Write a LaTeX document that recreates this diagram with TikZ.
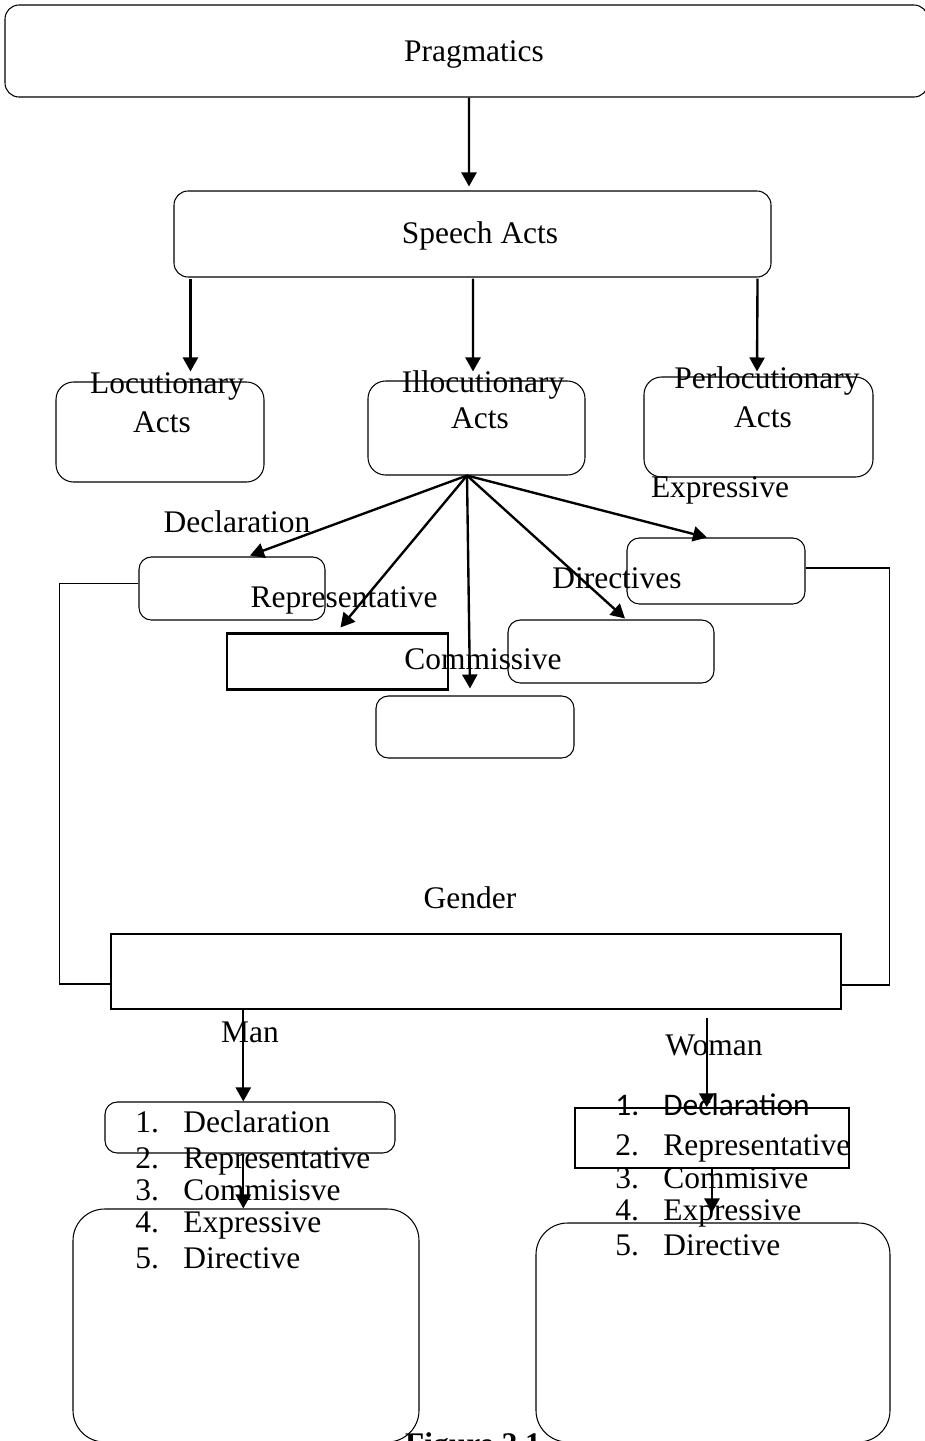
\documentclass[tikz,border=0pt]{standalone}
\usepackage{fontspec}
\setmainfont{Liberation Serif}
\newfontfamily\calfont{Carlito}
\usetikzlibrary{arrows.meta,calc,fit,positioning}

\tikzset{
  rbox/.style={draw,rounded corners=7pt,inner sep=0pt,line width=0.6pt},
  sbox/.style={draw,inner sep=0pt,line width=0.8pt},
  lbl/.style={inner sep=0pt,anchor=base,font=\fontsize{17.9}{21}\selectfont},
  litem/.style={lbl,anchor=base west},
  arr/.style={-{Triangle[length=0.28cm,width=0.3cm]},line width=1.35pt},
  brk/.style={line width=0.6pt},
}

\begin{document}
\begin{tikzpicture}[x=0.02cm,y=-0.02cm]
  \useasboundingbox (0,0) rectangle (925,1441);
  % Top levels
  \node[rbox,rounded corners=8pt,fit={(5,5) (928,97)}] (prag) {};
  \node[lbl] (tprag) at (474,61) {Pragmatics};
  \node[rbox,rounded corners=8pt,fit={(174,191) (771,277)}] (speech) {};
  \node[lbl] (tspeech) at (480,243) {Speech Acts};
  % Three kinds of acts
  \node[rbox,rounded corners=10pt,fit={(56,382) (264,482)}] (locu) {};
  \node[lbl] (tlocu) at (167,393) {Locutionary};
  \node[lbl] (tlocu2) at (162,432) {Acts};
  \node[rbox,rounded corners=10pt,fit={(368,381) (585,475)}] (illo) {};
  \node[lbl] (tillo) at (483,392) {Illocutionary};
  \node[lbl] (tillo2) at (480,428) {Acts};
  \node[rbox,rounded corners=10pt,fit={(644,377) (873,477)}] (perlo) {};
  \node[lbl] (tperlo) at (767,388) {Perlocutionary};
  \node[lbl] (tperlo2) at (763,427) {Acts};
  % Illocutionary types
  \node[rbox,fit={(139,557) (325,620)}] (decl) {};
  \node[lbl] (tdecl) at (237,532) {Declaration};
  \node[sbox,line width=1.7pt,fit={(227,633) (448,689)}] (rep) {};
  \node[lbl] (trep) at (344,607) {Representative};
  \node[rbox,fit={(376,696) (574,758)}] (comm) {};
  \node[lbl] (tcomm) at (483,669) {Commissive};
  \node[rbox,fit={(508,620) (714,683)}] (dir) {};
  \node[lbl] (tdir) at (617,588) {Directives};
  \node[rbox,fit={(627,538) (805,604)}] (expr) {};
  \node[lbl] (texpr) at (720,497) {Expressive};
  % Gender
  \node[sbox,fit={(111,934) (841,1009)}] (gender) {};
  \node[lbl] (tgender) at (470,908) {Gender};
  \node[lbl] (tman) at (250,1042) {Man};
  \node[lbl] (twoman) at (714,1055) {Woman};
  % Man side
  \node[rbox,fit={(105,1102) (395,1153)}] (mtop) {};
  \node[rbox,rounded corners=18pt,fit={(73,1209) (419,1442)}] (mlow) {};
  \foreach \i/\t/\y in {1/Declaration/1132,2/Representative/1168,3/Commisisve/1200,4/Expressive/1232,5/Directive/1268}{
    \node[litem] (mn\i) at (135,\y) {\i.};
    \node[litem] (mi\i) at (183,\y) {\t};
  }
  % Woman side
  \node[sbox,fit={(575,1108) (849,1168)}] (wtop) {};
  \node[rbox,rounded corners=18pt,fit={(536,1223) (890,1442)}] (wlow) {};
  \node[litem,font=\fontsize{17.9}{21}\calfont] (wn1) at (615,1115) {1.};
  \node[litem,font=\fontsize{17.9}{21}\calfont] (wi1) at (663,1115) {Declaration};
  \foreach \i/\t/\y in {2/Representative/1155,3/Commisive/1188,4/Expressive/1220,5/Directive/1255}{
    \node[litem] (wn\i) at (615,\y) {\i.};
    \node[litem] (wi\i) at (663,\y) {\t};
  }
  \node[lbl,font=\fontsize{17.9}{21}\selectfont\bfseries] (fig) at (473,1454) {Figure 2.1};
  % Arrows
  \draw[arr] ($(prag.south)+(2.5,0)$) -- ($(speech.north)+(-3.5,-4)$);
  \draw[arr] ($(speech.south west)+(17,1)$) -- ($(locu.north west)+(135,-10)$);
  \draw[arr] ($(speech.south)+(0.5,1)$) -- ($(illo.north)+(-3.5,-9)$);
  \draw[arr] ($(speech.south east)+(-14,1)$) -- ($(perlo.north)+(-1.5,-5)$);
  \coordinate (fan) at ($(illo.south)+(-9.5,0)$);
  \draw[arr] (fan) -- ($(decl.north)+(18,-1)$);
  \draw[arr] (fan) -- ($(rep.north)+(3,-4)$);
  \draw[arr] (fan) -- ($(comm.north)+(-5,-7)$);
  \draw[arr] (fan) -- ($(dir.north)+(14,-1)$);
  \draw[arr] (fan) -- ($(expr.north)+(-9,0)$);
  % Brackets to gender
  \coordinate (lb) at ($(gender.south west)+(-51,-26)$);
  \draw[brk] ($(decl.west)+(0,-5)$) -| (lb);
  \draw[line width=1.1pt] (lb) -- (lb -| gender.west);
  \coordinate (rb) at ($(gender.south east)+(48,-25)$);
  \draw[brk] ($(expr.east)+(0,-3)$) -| (rb);
  \draw[line width=1.1pt] (rb) -- (rb -| gender.east);
  % Man and woman
  \coordinate (mstart) at ($(gender.south west)+(133,-2)$);
  \draw[arr] (mstart) -- (mstart |- mtop.north);
  \draw[arr] (mtop.south -| mstart) -- (mlow.north -| mstart);
  \coordinate (wstart) at ($(gender.south east)+(-135,8)$);
  \draw[arr] (wstart) -- (wstart |- wtop.north);
  \draw[arr,shorten >=0.2cm] (wtop.south) -- (wlow.north -| wtop.south);
\end{tikzpicture}
\end{document}
